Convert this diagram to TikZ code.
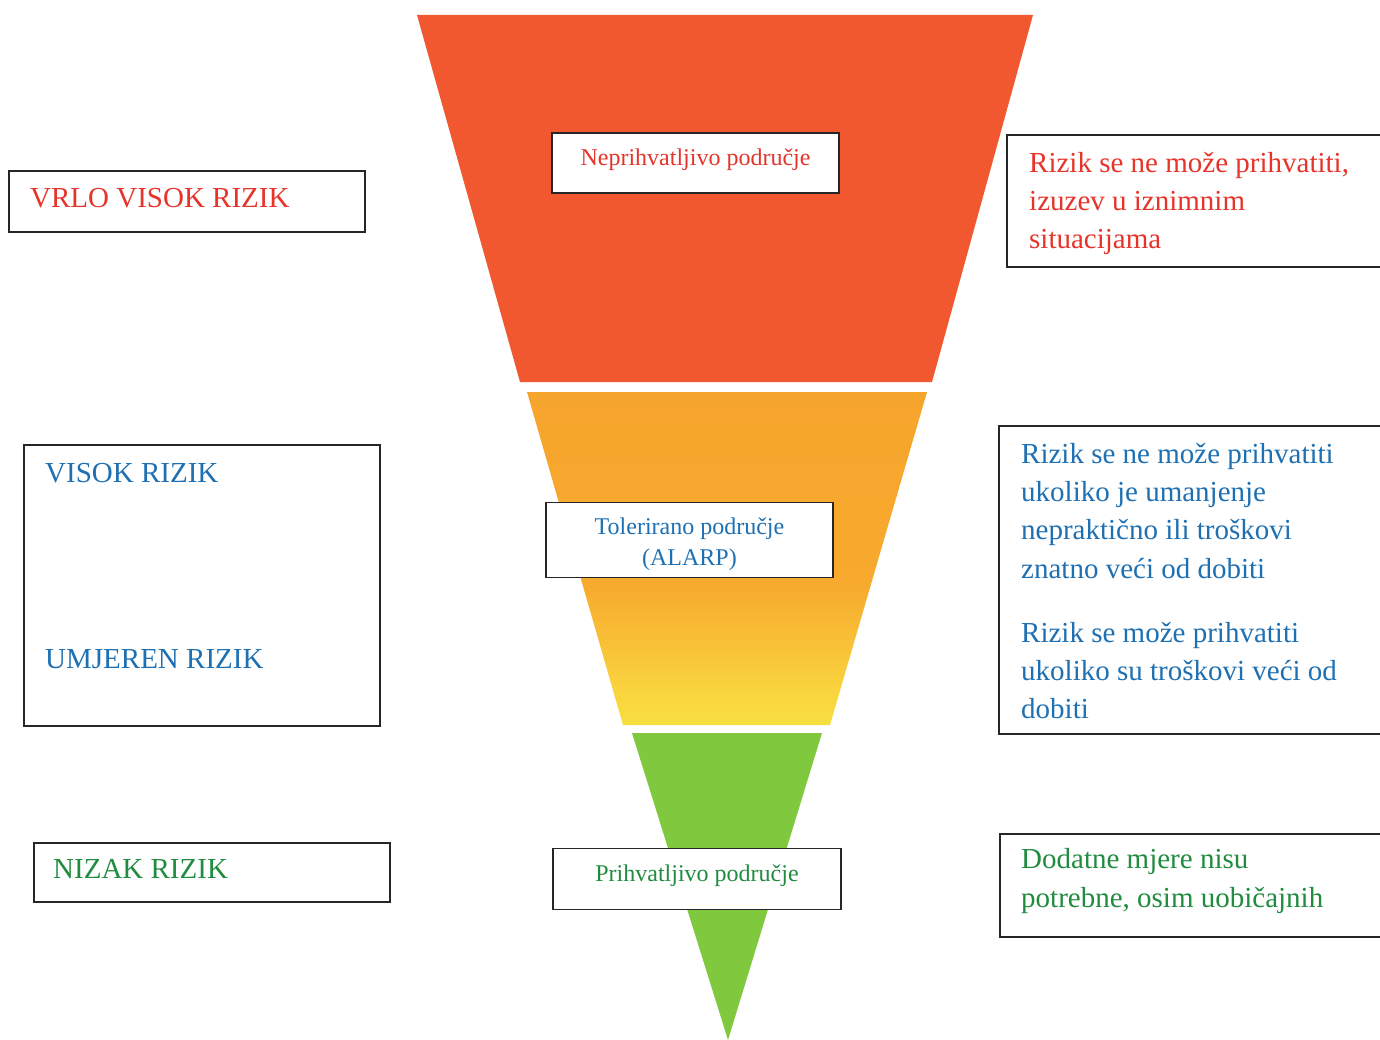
\documentclass[tikz,border=0pt]{standalone}
\usepackage{fontspec}
\setmainfont{Liberation Serif}
\definecolor{redfill}{RGB}{241,88,48}
\definecolor{orgA}{RGB}{246,160,42}
\definecolor{orgB}{RGB}{247,170,46}
\definecolor{orgC}{RGB}{249,212,62}
\definecolor{yelA}{RGB}{244,242,64}
\definecolor{yelG}{RGB}{222,238,80}
\definecolor{greenfill}{RGB}{128,200,62}
\definecolor{redtxt}{RGB}{230,52,42}
\definecolor{bluetxt}{RGB}{30,112,178}
\definecolor{greentxt}{RGB}{32,140,64}
\pgfdeclareverticalshading{tolshade}{100bp}{color(0bp)=(yelG); color(6bp)=(yelA); color(16bp)=(yelA); color(30bp)=(orgC); color(46bp)=(orgB); color(100bp)=(orgA)}
\begin{document}
\begin{tikzpicture}[x=1pt,y=-1pt,
  box/.style={draw=black!85,line width=1.6pt,fill=white,inner sep=0pt},
  big/.style={font=\fontsize{29}{38.3}\selectfont,inner sep=0pt,align=left},
  small/.style={font=\fontsize{24}{30}\selectfont,inner sep=0pt,align=center}]
\useasboundingbox (0,0) rectangle (1380,1040);
\clip (0,0) rectangle (1380,1040);
% funnel segments
\fill[redfill] (417,15) -- (1033,15) -- (932,382) -- (520,382) -- cycle;
\shade[shading=tolshade] (527,392) -- (927,392) -- (830,725) -- (623,725) -- cycle;
\fill[greenfill] (632,733) -- (822,733) -- (728,1040) -- cycle;
% central boxes
\node[box,minimum width=287pt,minimum height=60pt] (nep) at (695.5,163) {};
\node[small,text=redtxt] (neptxt) at ([yshift=3pt]nep.center) {Neprihvatljivo područje};
\node[box,minimum width=287pt,minimum height=75pt] (tol) at (689.5,540) {};
\node[small,text=bluetxt,font=\fontsize{24}{31}\selectfont] (toltxt) at ([yshift=-4pt]tol.center) {Tolerirano područje\\(ALARP)};
\node[box,minimum width=288pt,minimum height=61pt] (pri) at (697,879) {};
\node[small,text=greentxt] (pritxt) at ([yshift=3pt]pri.center) {Prihvatljivo područje};
% left boxes
\node[box,anchor=north west,minimum width=356pt,minimum height=61pt] (lb1) at (8,170) {};
\node[big,text=redtxt,anchor=base west] (lt1) at (30,208) {VRLO VISOK RIZIK};
\node[box,anchor=north west,minimum width=356pt,minimum height=281pt] (lb2) at (23,444) {};
\node[big,text=bluetxt,anchor=base west] (lt2) at (45,482) {VISOK RIZIK};
\node[big,text=bluetxt,anchor=base west] (lt3) at (45,668) {UMJEREN RIZIK};
\node[box,anchor=north west,minimum width=356pt,minimum height=59pt] (lb3) at (33,842) {};
\node[big,text=greentxt,anchor=base west] (lt4) at (53,878) {NIZAK RIZIK};
% right boxes
\node[box,anchor=north west,minimum width=390pt,minimum height=132pt] (rb1) at (1006,134) {};
\node[big,text=redtxt,anchor=north west] (rt1) at (1029,145.2) {\strut Rizik se ne može prihvatiti,\\izuzev u iznimnim\\situacijama};
\node[box,anchor=north west,minimum width=390pt,minimum height=308pt] (rb2) at (998,425) {};
\node[big,text=bluetxt,anchor=north west] (rt2) at (1021,436.2) {\strut Rizik se ne može prihvatiti\\ukoliko je umanjenje\\nepraktično ili troškovi\\znatno veći od dobiti};
\node[big,text=bluetxt,anchor=north west] (rt3) at (1021,615.2) {\strut Rizik se može prihvatiti\\ukoliko su troškovi veći od\\dobiti};
\node[box,anchor=north west,minimum width=390pt,minimum height=103pt] (rb3) at (999,833) {};
\node[big,text=greentxt,anchor=north west,font=\fontsize{29}{39.5}\selectfont] (rt4) at (1021,840.4) {\strut Dodatne mjere nisu\\potrebne, osim uobičajnih};
\end{tikzpicture}
\end{document}
